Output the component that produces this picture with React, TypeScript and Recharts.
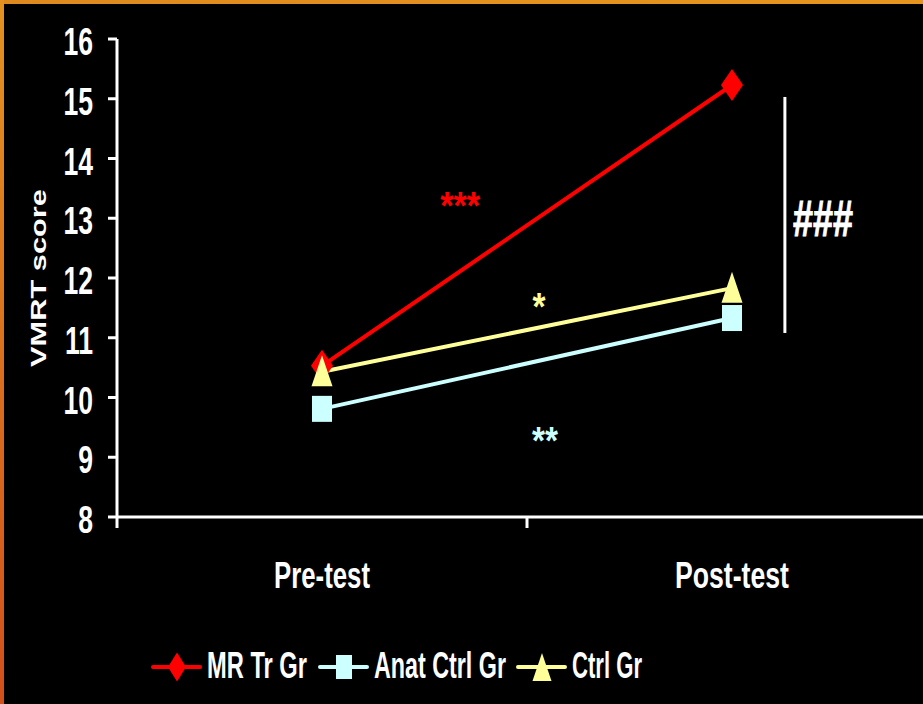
import React from "react";
import { LineChart, Line, XAxis, YAxis, ReferenceLine, ReferenceDot } from "recharts";

const categories = ["Pre-test", "Post-test"];
const mrTrGr = [10.53, 15.23];
const anatCtrlGr = [9.81, 11.33];
const ctrlGr = [10.43, 11.83];
const yTicks = [8, 9, 10, 11, 12, 13, 14, 15, 16];

const RED = "#FF0000";
const CYAN = "#CCFFFF";
const YELLOW = "#FFFF99";
const FONT = "'Liberation Sans', Arial, sans-serif";

const data = categories.map((name, i) => ({
  x: i + 0.5,
  name,
  mr: mrTrGr[i],
  anat: anatCtrlGr[i],
  ctrl: ctrlGr[i],
}));

const catWidths = [96, 114];

const Diamond = ({ cx, cy, w = 22, h = 32, fill }: any) => (
  <path d={`M${cx},${cy - h / 2} L${cx + w / 2},${cy} L${cx},${cy + h / 2} L${cx - w / 2},${cy} Z`} fill={fill} />
);
const Square = ({ cx, cy, w = 20, h = 26, fill }: any) => (
  <rect x={cx - w / 2} y={cy - h / 2} width={w} height={h} fill={fill} />
);
const Triangle = ({ cx, cy, w = 21, h = 31, fill }: any) => (
  <path d={`M${cx},${cy - h / 2 - 1} L${cx + w / 2},${cy + h / 2 - 1} L${cx - w / 2},${cy + h / 2 - 1} Z`} fill={fill} />
);

// ticks between categories get a tick mark, half-steps carry the category name
const CatTick = (props: any) => {
  const { x, y, payload } = props;
  const v = payload.value;
  if (Number.isInteger(v)) {
    return <line x1={x} y1={y} x2={x} y2={y + 11} stroke="#fff" strokeWidth={3} />;
  }
  const i = Math.floor(v);
  return (
    <text
      x={x - catWidths[i] / 2}
      y={y + 71}
      fill="#fff"
      fontSize={37}
      fontWeight="bold"
      fontFamily={FONT}
      textLength={catWidths[i]}
      lengthAdjust="spacingAndGlyphs"
    >
      {categories[i]}
    </text>
  );
};

const ValTick = (props: any) => {
  const { x, y, payload } = props;
  return (
    <text
      transform={`translate(${x},${y}) scale(0.7,1)`}
      dy={16}
      textAnchor="end"
      fill="#fff"
      fontSize={38}
      fontWeight="bold"
      fontFamily={FONT}
    >
      {payload.value}
    </text>
  );
};

const Mark = (text: string, color: string, size: number, len: number) => (props: any) => {
  const { viewBox } = props;
  const cx = viewBox.x + (viewBox.width || 0) / 2;
  const cy = viewBox.y + (viewBox.height || 0) / 2;
  return (
    <text
      x={cx - len / 2}
      y={cy + size * 0.5}
      fill={color}
      stroke={color}
      strokeWidth={text === "###" ? 1 : 0}
      fontSize={size}
      fontWeight="bold"
      fontFamily={FONT}
      textLength={len}
      lengthAdjust="spacingAndGlyphs"
    >
      {text}
    </text>
  );
};

const YLabel = (props: any) => {
  const { viewBox } = props;
  const cy = viewBox.y + viewBox.height / 2;
  return (
    <text
      x={46}
      y={cy}
      transform={`rotate(-90, 46, ${cy})`}
      textAnchor="middle"
      fill="#fff"
      fontSize={22}
      fontWeight="bold"
      fontFamily={FONT}
      textLength={178}
      lengthAdjust="spacingAndGlyphs"
    >
      VMRT score
    </text>
  );
};

const legendItems = [
  { label: "MR Tr Gr", color: RED, shape: "diamond", x: 153, len: 100 },
  { label: "Anat Ctrl Gr", color: CYAN, shape: "square", x: 320, len: 132 },
  { label: "Ctrl Gr", color: YELLOW, shape: "triangle", x: 518, len: 70 },
];

export default function App() {
  return (
    <div style={{ position: "absolute", left: 0, top: 0, width: 923, height: 704, overflow: "hidden", background: "#000" }}>
      <LineChart width={950} height={704} data={data} margin={{ top: 39, right: 13, left: 0, bottom: 127 }}>
        <XAxis
          dataKey="x"
          type="number"
          domain={[0, 2]}
          ticks={[0, 0.5, 1, 1.5, 2]}
          interval={0}
          tickLine={false}
          tickSize={0}
          tickMargin={0}
          tick={<CatTick />}
          axisLine={{ stroke: "#fff", strokeWidth: 3 }}
          height={60}
        />
        <YAxis
          type="number"
          domain={[8, 16]}
          ticks={yTicks}
          interval={0}
          width={117}
          tickSize={9}
          tickMargin={15}
          tickLine={{ stroke: "#fff", strokeWidth: 3 }}
          axisLine={{ stroke: "#fff", strokeWidth: 3 }}
          tick={<ValTick />}
          label={{ content: <YLabel /> }}
        />
        <ReferenceLine segment={[{ x: 1.629, y: 15.03 }, { x: 1.629, y: 11.08 }]} stroke="#fff" strokeWidth={3} />
        <Line
          dataKey="mr"
          stroke={RED}
          strokeWidth={4}
          isAnimationActive={false}
          dot={(p: any) => <Diamond key={`mr${p.index}`} cx={p.cx} cy={p.cy} fill={RED} />}
          activeDot={false}
        />
        <Line
          dataKey="anat"
          stroke={CYAN}
          strokeWidth={4}
          isAnimationActive={false}
          dot={(p: any) => <Square key={`an${p.index}`} cx={p.cx} cy={p.cy} fill={CYAN} />}
          activeDot={false}
        />
        <Line
          dataKey="ctrl"
          stroke={YELLOW}
          strokeWidth={4}
          isAnimationActive={false}
          dot={(p: any) => <Triangle key={`ct${p.index}`} cx={p.cx} cy={p.cy} fill={YELLOW} />}
          activeDot={false}
        />
        <ReferenceDot x={0.837} y={13.31} r={0} label={{ content: Mark("***", RED, 38, 40) }} />
        <ReferenceDot x={1.029} y={11.62} r={0} label={{ content: Mark("*", YELLOW, 38, 13) }} />
        <ReferenceDot x={1.044} y={9.37} r={0} label={{ content: Mark("**", CYAN, 38, 26) }} />
        <ReferenceDot x={1.722} y={13.12} r={0} label={{ content: Mark("###", "#fff", 50, 60) }} />
      </LineChart>
      <svg width={923} height={60} style={{ position: "absolute", left: 0, top: 637 }}>
        {legendItems.map((it) => (
          <g key={it.label}>
            <line x1={it.x} y1={30} x2={it.x + 47} y2={30} stroke={it.color} strokeWidth={4} strokeLinecap="round" />
            {it.shape === "diamond" && <Diamond cx={it.x + 24} cy={30} w={18} h={29} fill={it.color} />}
            {it.shape === "square" && <Square cx={it.x + 24} cy={30} w={16} h={24} fill={it.color} />}
            {it.shape === "triangle" && <Triangle cx={it.x + 24} cy={31} w={19} h={28} fill={it.color} />}
            <text
              x={it.x + 54}
              y={41}
              fill="#fff"
              fontSize={37}
              fontWeight="bold"
              fontFamily={FONT}
              textLength={it.len}
              lengthAdjust="spacingAndGlyphs"
            >
              {it.label}
            </text>
          </g>
        ))}
      </svg>
      <div style={{ position: "absolute", left: 0, top: 0, width: 923, height: 4, background: "linear-gradient(to right, #DE8A1E, #E6961F)" }} />
      <div style={{ position: "absolute", left: 0, top: 0, width: 4, height: 704, background: "linear-gradient(to bottom, #E39220, #D2501A)" }} />
    </div>
  );
}
